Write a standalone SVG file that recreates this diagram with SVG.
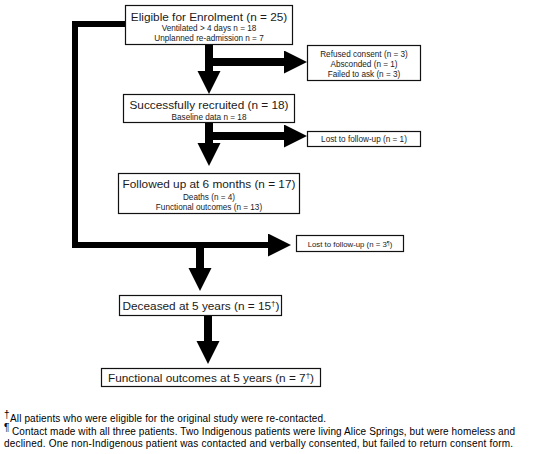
<svg xmlns="http://www.w3.org/2000/svg" width="544" height="454" viewBox="0 0 544 454">
<style>
.box{fill:#fff;stroke:#111;stroke-width:1.2}
.t{font-family:"Liberation Sans",Arial,sans-serif;fill:#1a1a1a;text-anchor:middle}
.h{font-size:11.8px}
.s{font-size:8.2px}
.fn{font-family:"Liberation Sans",Arial,sans-serif;fill:#000;font-size:10px}
.c{fill:none;stroke:#000;stroke-width:8;stroke-linejoin:miter}
.c2{fill:none;stroke:#000;stroke-width:6;stroke-linejoin:miter}
</style>
<defs>
<marker id="ah" markerUnits="userSpaceOnUse" markerWidth="24" markerHeight="24" refX="0" refY="11.5" orient="auto">
<path d="M0,0 L23,11.5 L0,23 Z" fill="#000"/>
</marker>
</defs>
<rect width="544" height="454" fill="#fff"/>
<g id="connectors">
<path class="c2" d="M126,24 H75 V245 H268" marker-end="url(#ah)"/>
<path class="c" d="M200,245 V268" marker-end="url(#ah)"/>
<path class="c" d="M209,45 V71" marker-end="url(#ah)"/>
<path class="c" d="M209,62 H284" marker-end="url(#ah)"/>
<path class="c" d="M209,123 V143" marker-end="url(#ah)"/>
<path class="c" d="M209,136 H284" marker-end="url(#ah)"/>
<path class="c" d="M208,316 V341" marker-end="url(#ah)"/>
</g>
<g id="eligible">
<rect class="box" x="125.5" y="5.5" width="167" height="39"/>
<text class="t h" x="209" y="21">Eligible for Enrolment (n = 25)</text>
<text class="t s" x="209" y="31">Ventilated &gt; 4 days n = 18</text>
<text class="t s" x="209" y="41">Unplanned re-admission n = 7</text>
</g>
<g id="excluded">
<rect class="box" x="307.5" y="45.5" width="113" height="35"/>
<text class="t s" x="364" y="57">Refused consent (n = 3)</text>
<text class="t s" x="364" y="67">Absconded (n = 1)</text>
<text class="t s" x="364" y="77">Failed to ask (n = 3)</text>
</g>
<g id="recruited">
<rect class="box" x="123.5" y="94.5" width="171" height="28"/>
<text class="t h" x="209" y="109">Successfully recruited (n = 18)</text>
<text class="t s" x="209" y="120">Baseline data n = 18</text>
</g>
<g id="lost1">
<rect class="box" x="307.5" y="131.5" width="113" height="15"/>
<text class="t s" x="364" y="142">Lost to follow-up (n = 1)</text>
</g>
<g id="followed">
<rect class="box" x="118.5" y="173.5" width="181" height="40"/>
<text class="t h" x="209" y="188">Followed up at 6 months (n = 17)</text>
<text class="t s" x="209" y="200">Deaths (n = 4)</text>
<text class="t s" x="209" y="210">Functional outcomes (n = 13)</text>
</g>
<g id="lost3">
<rect class="box" x="296.5" y="235.5" width="107" height="16"/>
<text class="t" x="350" y="247" font-size="7.8">Lost to follow-up (n = 3<tspan font-size="5.5" dy="-2.5">¶</tspan><tspan dy="2.5">)</tspan></text>
</g>
<g id="deceased">
<rect class="box" x="119.5" y="295.5" width="162" height="20"/>
<text class="t h" x="201" y="310">Deceased at 5 years (n = 15<tspan font-size="8" dy="-4">†</tspan><tspan dy="4">)</tspan></text>
</g>
<g id="functional">
<rect class="box" x="101.5" y="368.5" width="219" height="18"/>
<text class="t h" x="211" y="382">Functional outcomes at 5 years (n = 7<tspan font-size="8" dy="-4">†</tspan><tspan dy="4">)</tspan></text>
</g>
<g id="footnotes">
<text class="fn" x="4" y="418" font-size="6.5">†</text>
<text class="fn" x="10" y="422" textLength="316" lengthAdjust="spacing">All patients who were eligible for the original study were re-contacted.</text>
<text class="fn" x="4" y="431" font-size="7">¶</text>
<text class="fn" x="12" y="435" textLength="503" lengthAdjust="spacing">Contact made with all three patients. Two Indigenous patients were living Alice Springs, but were homeless and</text>
<text class="fn" x="4" y="447" textLength="509" lengthAdjust="spacing">declined. One non-Indigenous patient was contacted and verbally consented, but failed to return consent form.</text>
</g>
</svg>
